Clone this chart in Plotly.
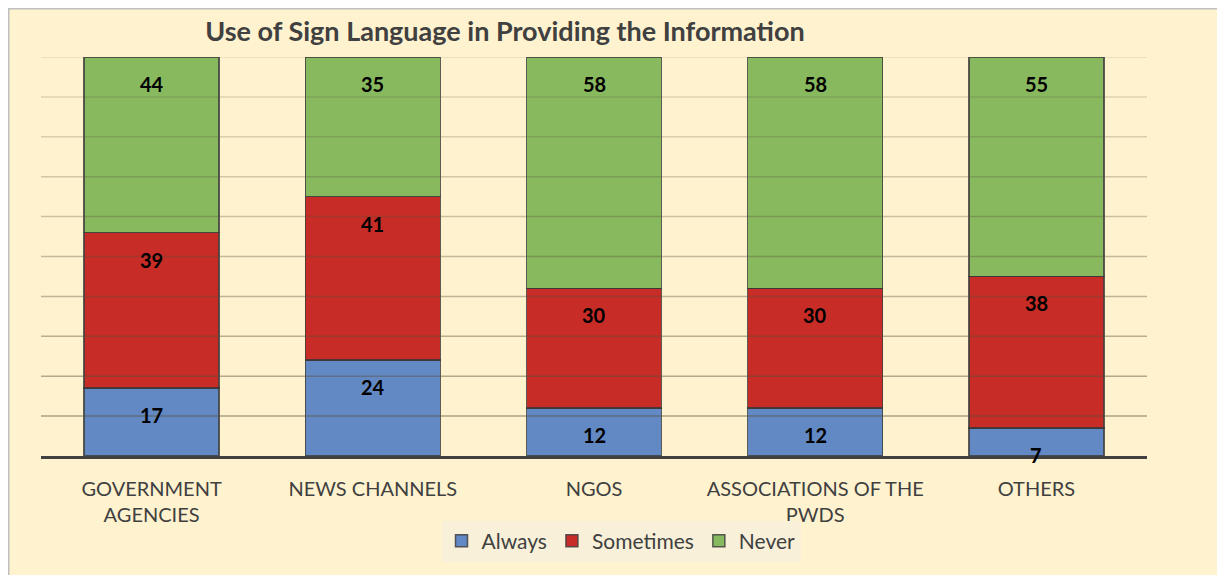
import plotly.graph_objects as go

categories = ["GOVERNMENT<br>AGENCIES", "NEWS CHANNELS", "NGOS", "ASSOCIATIONS OF THE<br>PWDS", "OTHERS"]
always = [17, 24, 12, 12, 7]
sometimes = [39, 41, 30, 30, 38]
never = [44, 35, 58, 58, 55]
series_names = ["Always", "Sometimes", "Never"]
series_colors = ["#5b84c4", "#c5221f", "#82b75a"]
grid_values = [10, 20, 30, 40, 50, 60, 70, 80, 90, 100]

FONT = "Lato"
series = [always, sometimes, never]

# page is offset by 8px (body margin); figure coordinates below account for that
W, H = 1217, 567
PL, PR, PT, PB = 33, 1139, 49, 448
PW, PH = PR - PL, PB - PT

fig = go.Figure()
for name, vals, col in zip(series_names, series, series_colors):
    fig.add_trace(go.Bar(
        x=categories, y=vals, name=name,
        marker=dict(color=col, line=dict(color="rgba(55,55,55,0.85)", width=1.5)),
        opacity=0.95,
        hoverinfo="skip",
    ))

annotations = []
for i, cat in enumerate(categories):
    cum = 0
    for vals in series:
        cum += vals[i]
        annotations.append(dict(
            x=cat, y=cum, xref="x", yref="y", text=str(vals[i]),
            showarrow=False, yanchor="middle", yshift=-27,
            font=dict(family=FONT, size=20, color="black", weight="bold"),
        ))

shapes = [dict(
    type="rect", xref="paper", yref="paper",
    x0=(0.5 - PL) / PW, x1=(W + 20 - PL) / PW,
    y0=(PB - H - 20) / PH, y1=(PB - 0.5) / PH,
    fillcolor="#fff2cf", line=dict(color="#bfbfbf", width=2), layer="below",
)]
n = len(grid_values)
for k, gv in enumerate(grid_values):
    a = 0.15 + 0.35 * (n - 1 - k) / (n - 1)
    shapes.append(dict(
        type="line", xref="paper", yref="y", x0=0, x1=1, y0=gv, y1=gv,
        line=dict(color=f"rgba(90,80,60,{a:.2f})", width=1.5), layer="above",
    ))

fig.update_layout(
    width=W, height=H,
    margin=dict(l=PL, r=W - PR, t=PT, b=H - PB),
    paper_bgcolor="white", plot_bgcolor="rgba(0,0,0,0)",
    barmode="stack", bargap=0.39,
    title=dict(text="<b>Use of Sign Language in Providing the Information</b>",
               x=497 / W, xanchor="center", y=1 - 24 / H, yanchor="middle",
               font=dict(family=FONT, size=27, color="#404040")),
    xaxis=dict(showline=True, linecolor="#404040", linewidth=3,
               ticks="outside", ticklen=13, tickcolor="rgba(0,0,0,0)",
               tickfont=dict(family=FONT, size=20, color="#404040"),
               showgrid=False),
    yaxis=dict(range=[0, 100], showticklabels=False, showgrid=False,
               zeroline=False, showline=False),
    legend=dict(orientation="h", x=(613 - PL) / PW, xanchor="center",
                y=(PB - 533) / PH, yanchor="middle",
                bgcolor="#f8f0d9", font=dict(family=FONT, size=21, color="#404040"),
                traceorder="normal", itemwidth=30),
    annotations=annotations, shapes=shapes,
)

fig.write_html("out.html")
